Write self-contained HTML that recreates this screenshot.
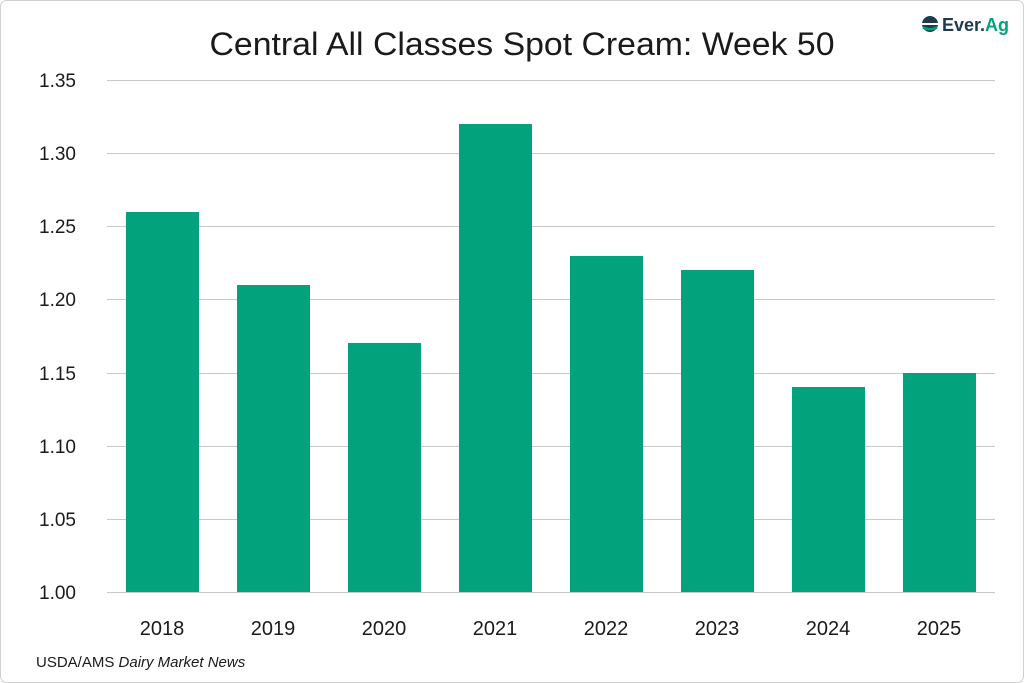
<!DOCTYPE html>
<html><head><meta charset="utf-8"><style>
html,body{margin:0;padding:0;background:#fff;}
svg{display:block;}
text{font-family:"Liberation Sans",sans-serif;fill:#1a1a1a;}
</style></head><body>
<svg width="1024" height="683" viewBox="0 0 1024 683">
<rect x="0.5" y="0.5" width="1023" height="682" rx="6" fill="#fff" stroke="#d0d0d0"/>
<text x="522" y="55" font-size="32" text-anchor="middle" textLength="625" lengthAdjust="spacingAndGlyphs">Central All Classes Spot Cream: Week 50</text>
<g stroke="#c8c8c8" stroke-width="1">
<line x1="107" x2="995" y1="80.5" y2="80.5"/><line x1="107" x2="995" y1="153.5" y2="153.5"/>
<line x1="107" x2="995" y1="226.5" y2="226.5"/><line x1="107" x2="995" y1="299.5" y2="299.5"/>
<line x1="107" x2="995" y1="373.5" y2="373.5"/><line x1="107" x2="995" y1="446.5" y2="446.5"/>
<line x1="107" x2="995" y1="519.5" y2="519.5"/><line x1="107" x2="995" y1="592.5" y2="592.5"/>
</g>
<g font-size="19" text-anchor="end">
<text x="76" y="87">1.35</text><text x="76" y="160">1.30</text><text x="76" y="233">1.25</text>
<text x="76" y="306">1.20</text><text x="76" y="380">1.15</text><text x="76" y="453">1.10</text>
<text x="76" y="526">1.05</text><text x="76" y="599">1.00</text>
</g>
<g fill="#02a27d">
<rect x="126" y="212" width="73" height="380"/>
<rect x="237" y="285" width="73" height="307"/>
<rect x="348" y="343" width="73" height="249"/>
<rect x="459" y="124" width="73" height="468"/>
<rect x="570" y="256" width="73" height="336"/>
<rect x="681" y="270" width="73" height="322"/>
<rect x="792" y="387" width="73" height="205"/>
<rect x="903" y="373" width="73" height="219"/>
</g>
<g font-size="20" text-anchor="middle">
<text x="162" y="635">2018</text><text x="273" y="635">2019</text><text x="384" y="635">2020</text>
<text x="495" y="635">2021</text><text x="606" y="635">2022</text><text x="717" y="635">2023</text>
<text x="828" y="635">2024</text><text x="939" y="635">2025</text>
</g>
<text x="36" y="667" font-size="15">USDA/AMS <tspan font-style="italic">Dairy Market News</tspan></text>
<g transform="translate(930,24)">
<circle cx="0" cy="0" r="8" fill="#1d3a4f"/>
<rect x="-8" y="-1" width="16" height="2" fill="#fff"/>
<path d="M-7 3.5 Q0 7 7 3.5" stroke="#02a27d" stroke-width="2.5" fill="none"/>
</g>
<text x="942" y="31" font-size="18" font-weight="bold" style="fill:#1d3a4f">Ever.<tspan style="fill:#02a27d">Ag</tspan></text>
</svg>
</body></html>
